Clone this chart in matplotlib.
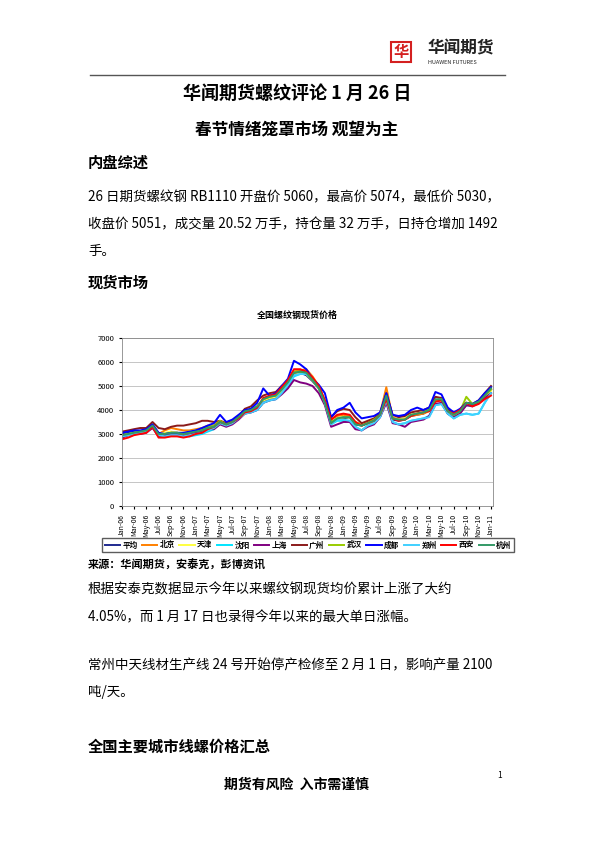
import matplotlib
matplotlib.use("Agg")
import matplotlib.pyplot as plt
import pandas as pd
from matplotlib.patches import Rectangle

plt.rcParams['font.family'] = ['Noto Sans CJK SC', 'DejaVu Sans']

dates = pd.date_range("2006-01-01", "2011-01-01", freq="MS")
names = ["平均", "北京", "天津", "沈阳", "上海", "广州", "武汉", "成都", "郑州", "西安", "杭州"]
colors = ["#1f2a8f", "#ff8000", "#ffff40", "#00e5ff", "#800080", "#8b1a1a", "#99cc00", "#0000ff", "#40d0ff", "#ff0000", "#339966"]
avg = [3000,3050,3100,3100,3150,3350,3050,3000,3050,3050,3000,3050, 3100,3150,3250,3300,3500,3400,3500,3700,3900,3950,4100,4400, 4500,4550,4800,5100,5500,5550,5450,5200,4900,4300,3500,3600, 3650,3700,3400,3350,3450,3550,3800,4500,3600,3550,3600,3750, 3800,3850,4000,4400,4450,4000,3800,3950,4200,4200,4300,4600,4850]
beijing = [2850,2950,3050,3100,3150,3400,3000,3150,3250,3200,3150,3150, 3200,3250,3350,3350,3550,3450,3550,3750,3950,4000,4150,4400, 4500,4600,4850,5150,5600,5650,5700,5400,5000,4400,3600,3750, 3800,3750,3500,3400,3500,3600,3850,4950,3700,3600,3650,3750, 3800,3850,3950,4350,4400,3950,3800,3900,4250,4200,4300,4550,4850]
tianjin = [2950,3000,3050,3100,3150,3300,3000,3050,3100,3050,3050,3100, 3150,3200,3300,3350,3500,3400,3500,3700,3900,3950,4100,4400, 4500,4550,4800,5100,5500,5550,5500,5250,4900,4300,3500,3650, 3700,3700,3450,3400,3450,3550,3800,4500,3650,3600,3650,3800, 3850,3900,4000,4400,4400,3950,3800,3950,4250,4250,4300,4550,4800]
shenyang = [2900,2950,3000,3050,3100,3300,2950,2900,2950,2950,2950,2900, 2950,3000,3100,3200,3450,3350,3450,3650,3850,3900,4000,4300, 4400,4450,4700,5000,5400,5500,5500,5300,4950,4300,3400,3550, 3550,3550,3300,3150,3350,3450,3700,4350,3500,3400,3450,3550, 3600,3650,3750,4200,4250,3850,3650,3800,3850,3800,3850,4300,4700]
shanghai = [2850,2950,3000,3000,3050,3250,2900,2950,3000,3000,2950,3000, 3050,3100,3200,3200,3400,3300,3400,3600,3850,3900,4000,4300, 4400,4450,4650,4900,5250,5150,5100,5000,4700,4200,3300,3400, 3500,3500,3200,3150,3300,3400,3700,4300,3450,3400,3300,3500, 3550,3600,3750,4250,4300,3850,3700,3850,4200,4150,4300,4500,4700]
guangzhou = [3100,3150,3200,3250,3250,3500,3250,3200,3300,3350,3350,3400, 3450,3550,3550,3500,3550,3450,3550,3750,4050,4150,4400,4600, 4700,4750,5000,5200,5550,5600,5600,5300,5000,4300,3700,3950, 4050,4000,3700,3450,3550,3650,3850,4700,3800,3700,3750,3900, 3950,4000,4100,4550,4500,4000,3850,4000,4300,4250,4400,4700,5000]
wuhan = [2950,3000,3050,3100,3150,3350,3000,3000,3050,3050,3000,3050, 3150,3200,3300,3350,3550,3400,3500,3700,3950,4000,4150,4450, 4550,4600,4850,5150,5600,5600,5500,5250,4900,4300,3500,3650, 3700,3700,3450,3350,3450,3600,3800,4550,3650,3600,3600,3800, 3850,3900,4050,4400,4450,3950,3800,3950,4550,4250,4350,4600,4850]
chengdu = [3050,3100,3150,3150,3200,3400,3050,3000,3050,3050,3050,3100, 3150,3250,3350,3450,3800,3500,3600,3800,4000,4050,4300,4900, 4600,4700,5000,5300,6050,5900,5700,5300,5050,4700,3700,4000, 4100,4300,3900,3650,3700,3750,3900,4700,3800,3750,3800,4000, 4100,4000,4100,4750,4650,4100,3900,4050,4300,4250,4400,4700,4950]
zhengzhou = [2900,2950,3000,3050,3100,3300,2950,2900,2950,2950,2900,2950, 3000,3050,3150,3250,3450,3350,3450,3650,3850,3900,4000,4300, 4400,4450,4700,5050,5450,5500,5500,5300,4950,4300,3400,3600, 3600,3550,3300,3150,3350,3450,3700,4400,3500,3400,3450,3550, 3600,3650,3700,4200,4250,3850,3650,3800,3850,3800,3850,4300,4700]
xian = [2780,2850,2950,3000,3050,3300,2850,2850,2900,2900,2850,2900, 3000,3050,3200,3300,3500,3400,3500,3650,3900,3950,4100,4500, 4600,4650,4950,5250,5700,5700,5600,5350,5000,4400,3600,3800, 3850,3800,3500,3350,3450,3550,3800,4450,3650,3550,3600,3750, 3850,3900,3950,4350,4400,3950,3850,4000,4300,4150,4250,4450,4600]
hangzhou = [2950,3000,3050,3100,3150,3350,3000,3000,3050,3050,3000,3050, 3100,3150,3250,3300,3500,3400,3500,3700,3950,4000,4150,4450, 4550,4600,4850,5150,5550,5600,5550,5250,4900,4300,3450,3650, 3700,3700,3400,3350,3450,3550,3800,4600,3650,3600,3600,3800, 3850,3900,4000,4450,4450,3950,3800,3950,4300,4250,4350,4600,4900]
series = [avg, beijing, tianjin, shenyang, shanghai, guangzhou, wuhan, chengdu, zhengzhou, xian, hangzhou]
yticks = [0, 1000, 2000, 3000, 4000, 5000, 6000, 7000]

W, H = 595, 842
fig = plt.figure(figsize=(W/100, H/100), dpi=100)
def T(x, y, s, **kw):
    fig.text(x/W, 1 - y/H, s, **kw)

# header
fig.add_artist(Rectangle((391/W, 1-62/H), 20/W, 20/H, fill=False, ec="#d42020", lw=1.5))
T(401, 52, "华", ha="center", va="center", fontsize=11, color="#d42020", fontweight="bold")
T(428, 48, "华闻期货", fontsize=12, fontweight="bold", color="#222222", va="center")
T(428, 63, "HUAWEN FUTURES", fontsize=4, color="#222222", va="center")
fig.add_artist(plt.Line2D([90/W, 505/W], [1-75/H, 1-75/H], color="#555555", lw=1))

T(297, 93, "华闻期货螺纹评论 1 月 26 日", ha="center", va="center", fontsize=13, fontweight="bold")
T(297, 130, "春节情绪笼罩市场 观望为主", ha="center", va="center", fontsize=12, fontweight="bold")
T(88, 163, "内盘综述", va="center", fontsize=11, fontweight="bold")
T(88, 197, "26 日期货螺纹钢 RB1110 开盘价 5060，最高价 5074，最低价 5030，", va="center", fontsize=9.7)
T(88, 224, "收盘价 5051，成交量 20.52 万手，持仓量 32 万手，日持仓增加 1492", va="center", fontsize=9.7)
T(88, 251, "手。", va="center", fontsize=9.7)
T(88, 283, "现货市场", va="center", fontsize=11, fontweight="bold")
T(88, 565, "来源：华闻期货，安泰克，彭博资讯", va="center", fontsize=8, fontweight="bold")
T(88, 590, "根据安泰克数据显示今年以来螺纹钢现货均价累计上涨了大约", va="center", fontsize=9.7)
T(88, 617, "4.05%，而 1 月 17 日也录得今年以来的最大单日涨幅。", va="center", fontsize=9.7)
T(88, 665, "常州中天线材生产线 24 号开始停产检修至 2 月 1 日，影响产量 2100", va="center", fontsize=9.7)
T(88, 692, "吨/天。", va="center", fontsize=9.7)
T(88, 747, "全国主要城市线螺价格汇总", va="center", fontsize=11, fontweight="bold")
T(297, 785, "期货有风险  入市需谨慎", ha="center", va="center", fontsize=10, fontweight="bold")
T(500, 776, "1", ha="center", va="center", fontsize=6)

T(297, 315, "全国螺纹钢现货价格", ha="center", va="center", fontsize=6.5, fontweight="bold")

ax = fig.add_axes([122/W, 1-506/H, (493-122)/W, (506-338)/H])
for s, n, c in zip(series, names, colors):
    ax.plot(dates, s, color=c, lw=1.4, label=n)
ax.set_ylim(0, 7000)
ax.set_yticks(yticks)
ax.grid(axis="y", color="#bbbbbb", lw=0.6)
ax.set_xlim(dates[0], dates[-1] + pd.Timedelta(days=10))
xt = dates[::2]
ax.set_xticks(xt)
ax.set_xticklabels([d.strftime("%b-%y") for d in xt], rotation=90, fontsize=5)
ax.tick_params(axis="y", labelsize=5.5, length=2)
ax.tick_params(axis="x", length=2)
for sp in ax.spines.values():
    sp.set_color("#888888"); sp.set_linewidth(0.6)
fig.legend(loc="center", bbox_to_anchor=(308/W, 1-545/H), ncol=11,
           prop={'size': 5.5, 'weight': 'bold'},
           handlelength=2.0, columnspacing=0.6, handletextpad=0.3, frameon=True,
           fancybox=False, edgecolor="#333333", borderpad=0.3)
fig.savefig("out.png", dpi=100)
